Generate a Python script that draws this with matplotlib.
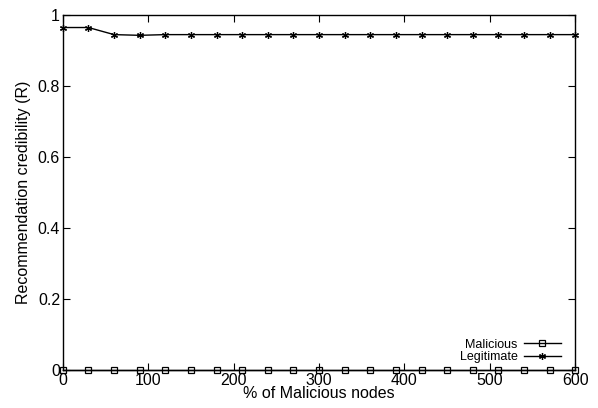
import numpy as np
import matplotlib
matplotlib.use("Agg")
import matplotlib.pyplot as plt

plt.rcParams['font.family'] = ['Liberation Sans', 'DejaVu Sans']

# data
nodes = list(range(0, 601, 30))
malicious = [0.0] * 21
legitimate = [0.965, 0.965, 0.945, 0.943] + [0.945] * 17

x_ticks = [0, 100, 200, 300, 400, 500, 600]
y_ticks = [0, 0.2, 0.4, 0.6, 0.8, 1]
y_labels = ['0', '0.2', '0.4', '0.6', '0.8', '1']

fig = plt.figure(figsize=(5.98, 4.08), dpi=100)
ax = fig.add_axes([0.105, 0.093, 0.857, 0.870])

ax.plot(nodes, malicious, color='black', lw=1, marker='s', ms=4.5,
        mfc='none', mew=0.9, label='Malicious', clip_on=False, zorder=3)
ax.plot(nodes, legitimate, color='black', lw=1, marker=(6, 2, 0), ms=5,
        mew=0.9, label='Legitimate', clip_on=False, zorder=3)

ax.set_xlim(0, 600)
ax.set_ylim(0, 1)
ax.set_xticks(x_ticks)
ax.set_xticklabels([str(t) for t in x_ticks])
ax.set_yticks(y_ticks)
ax.set_yticklabels(y_labels)
ax.tick_params(direction='in', top=True, right=True, length=5, width=0.8,
               labelsize=11.5, pad=2)
for s in ax.spines.values():
    s.set_linewidth(1)

ax.set_xlabel('% of Malicious nodes', fontsize=11.5, labelpad=-1)
ax.set_ylabel('Recommendation credibility (R)', fontsize=11.5, labelpad=5)

ax.legend(loc='lower right', markerfirst=False, frameon=False, fontsize=9,
          handlelength=3, handletextpad=0.5, labelspacing=0.05,
          borderpad=0.1, borderaxespad=0, bbox_to_anchor=(0.975, 0.015))

fig.savefig('out.png', dpi=100)
